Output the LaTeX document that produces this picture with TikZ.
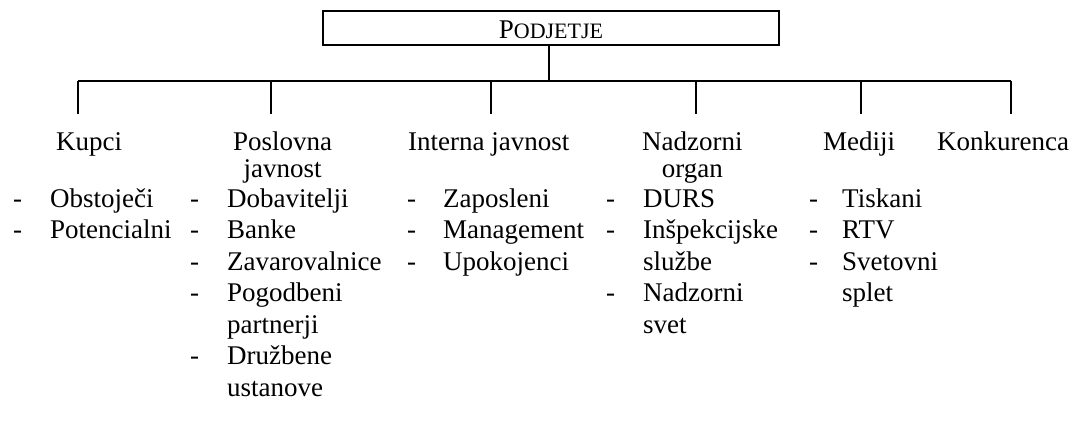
\documentclass[tikz,border=0pt]{standalone}
\usepackage{fontspec}
\setmainfont{Liberation Serif}
\begin{document}
\begin{tikzpicture}[x=1pt,y=-1pt,
  conn/.style={line width=1.8pt},
  lbl/.style={inner sep=0pt, anchor=base west, font=\fontsize{27}{31}\selectfont},
]
\useasboundingbox (0,0) rectangle (1085,428);
% top box
\node[draw, conn, minimum width=456pt, minimum height=34pt, inner sep=0pt,
      text height=21pt, text depth=0pt] (top) at (551,28)
      {\fontsize{27}{30}\selectfont P\fontsize{22}{26}\selectfont ODJETJE};
% bar coordinates
\coordinate (hub) at (549,81);
\foreach \i/\x in {1/78,2/271,3/491,4/696,5/861,6/1011}{
  \coordinate (b\i) at (\x,81);
  \coordinate (d\i) at (\x,114);
}
\draw[conn] (top.south -| hub) -- (hub);
\draw[conn] (b1) -- (b6);
\foreach \i in {1,...,6}{ \draw[conn] (b\i) -- (d\i); }
% headings
\def\hA{150}\def\hB{177}
\node[lbl] (h1) at (56,\hA) {Kupci};
\node[lbl] (h2a) at (233,\hA) {Poslovna};
\node[lbl, anchor=base] (h2b) at (h2a.base |- 0,\hB) {javnost};
\node[lbl] (h3) at (408,\hA) {Interna javnost};
\node[lbl] (h4a) at (642,\hA) {Nadzorni};
\node[lbl, anchor=base] (h4b) at (h4a.base |- 0,\hB) {organ};
\node[lbl] (h5) at (823,\hA) {Mediji};
\node[lbl] (h6) at (937,\hA) {Konkurenca};
% rows
\def\ra{207}\def\rb{238.5}\def\rc{270}\def\rd{301.5}\def\re{333}\def\rf{364.5}\def\rg{396}
% column 1
\node[lbl] (c1d1) at (13,\ra) {-}; \node[lbl] (c1t1) at (50,\ra) {Obstoječi};
\node[lbl] (c1d2) at (13,\rb) {-}; \node[lbl] (c1t2) at (50,\rb) {Potencialni};
% column 2
\node[lbl] (c2d1) at (190,\ra) {-}; \node[lbl] (c2t1) at (227,\ra) {Dobavitelji};
\node[lbl] (c2d2) at (190,\rb) {-}; \node[lbl] (c2t2) at (227,\rb) {Banke};
\node[lbl] (c2d3) at (190,\rc) {-}; \node[lbl] (c2t3) at (227,\rc) {Zavarovalnice};
\node[lbl] (c2d4) at (190,\rd) {-}; \node[lbl] (c2t4) at (227,\rd) {Pogodbeni};
\node[lbl] (c2t5) at (227,\re) {partnerji};
\node[lbl] (c2d6) at (190,\rf) {-}; \node[lbl] (c2t6) at (227,\rf) {Družbene};
\node[lbl] (c2t7) at (227,\rg) {ustanove};
% column 3
\node[lbl] (c3d1) at (407,\ra) {-}; \node[lbl] (c3t1) at (443,\ra) {Zaposleni};
\node[lbl] (c3d2) at (407,\rb) {-}; \node[lbl] (c3t2) at (443,\rb) {Management};
\node[lbl] (c3d3) at (407,\rc) {-}; \node[lbl] (c3t3) at (443,\rc) {Upokojenci};
% column 4
\node[lbl] (c4d1) at (606,\ra) {-}; \node[lbl] (c4t1) at (643,\ra) {DURS};
\node[lbl] (c4d2) at (606,\rb) {-}; \node[lbl] (c4t2) at (643,\rb) {Inšpekcijske};
\node[lbl] (c4t3) at (643,\rc) {službe};
\node[lbl] (c4d4) at (606,\rd) {-}; \node[lbl] (c4t4) at (643,\rd) {Nadzorni};
\node[lbl] (c4t5) at (643,\re) {svet};
% column 5
\node[lbl] (c5d1) at (809,\ra) {-}; \node[lbl] (c5t1) at (842,\ra) {Tiskani};
\node[lbl] (c5d2) at (809,\rb) {-}; \node[lbl] (c5t2) at (842,\rb) {RTV};
\node[lbl] (c5d3) at (809,\rc) {-}; \node[lbl] (c5t3) at (842,\rc) {Svetovni};
\node[lbl] (c5t4) at (842,\rd) {splet};
\end{tikzpicture}
\end{document}
